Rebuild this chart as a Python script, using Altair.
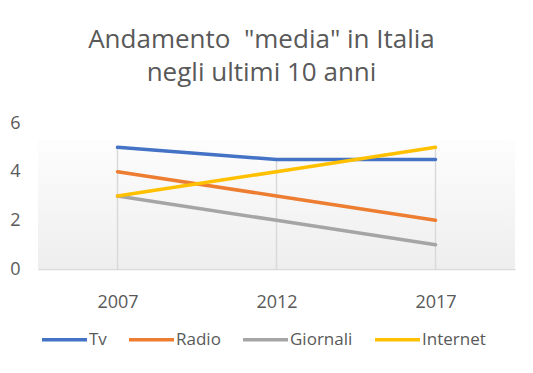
import altair as alt
import pandas as pd

years = ["2007", "2012", "2017"]
series_names = ["Tv", "Radio", "Giornali", "Internet"]
tv = [5, 4.5, 4.5]
radio = [4, 3, 2]
giornali = [3, 2, 1]
internet = [3, 4, 5]
colors = ["#4472C4", "#ED7D31", "#A5A5A5", "#FFC000"]
y_ticks = [0, 2, 4, 6]

rows = []
for name, vals in zip(series_names, [tv, radio, giornali, internet]):
    for yr, v in zip(years, vals):
        rows.append({"year": yr, "series": name, "value": v})
df = pd.DataFrame(rows)

W, H = 477, 146
GRAY = "#595959"
FONT = "Open Sans"

xscale = alt.Scale(type="point", padding=0.5, domain=years)
yscale = alt.Scale(domain=[0, 6], nice=False, zero=True)

xaxis = alt.Axis(title=None, labelAngle=0, ticks=False, grid=False,
                 domainColor="#d9d9d9", domainWidth=1.5,
                 labelColor=GRAY, labelFont=FONT, labelFontSize=18,
                 labelPadding=24)
yaxis = alt.Axis(title=None, values=y_ticks, ticks=False, domain=False,
                 grid=False, labelColor=GRAY, labelFont=FONT,
                 labelFontSize=18, labelPadding=18)

base = alt.Chart(df)

bg = alt.Chart(pd.DataFrame({"top": [5.3], "bottom": [0]})).mark_rect(
    strokeWidth=0, stroke="transparent",
    fill=alt.LinearGradient(
        gradient="linear",
        stops=[alt.GradientStop(color="#fdfdfd", offset=0),
               alt.GradientStop(color="#eeeeee", offset=1)],
        x1=0, x2=0, y1=0, y2=1,
    )
).encode(
    x=alt.value(0), x2=alt.value(W),
    y=alt.Y("top:Q", scale=yscale, axis=yaxis), y2="bottom:Q",
)

drops = base.transform_aggregate(
    maxv="max(value)", groupby=["year"]
).mark_rule(color="#d9d9d9", strokeWidth=1.5).encode(
    x=alt.X("year:N", scale=xscale, sort=years, axis=xaxis),
    y=alt.Y("maxv:Q", scale=yscale, axis=yaxis),
    y2=alt.datum(0),
)

lines = base.mark_line(strokeWidth=3.5, strokeCap="round").encode(
    x=alt.X("year:N", scale=xscale, sort=years, axis=xaxis),
    y=alt.Y("value:Q", scale=yscale, axis=yaxis),
    color=alt.Color("series:N",
                    scale=alt.Scale(domain=series_names, range=colors),
                    legend=alt.Legend(title=None, orient="none", direction="horizontal",
                                      legendX=2, legendY=192,
                                      symbolType="stroke", symbolSize=2025,
                                      symbolStrokeWidth=3.5, labelOffset=0,
                                      columnPadding=15, labelColor=GRAY,
                                      labelFont=FONT, labelFontSize=17)),
    order=alt.Order("year:N"),
)

chart = alt.layer(bg, drops, lines).properties(
    width=W, height=H,
    title=alt.TitleParams(
        text=['Andamento\u00a0 "media" in Italia', "negli ultimi 10 anni"],
        font=FONT, fontSize=26, fontWeight="normal", color=GRAY,
        lineHeight=33, anchor="middle", offset=28, dx=-15,
    ),
    autosize=alt.AutoSizeParams(type="none"),
    padding={"left": 30, "top": 115, "right": 10, "bottom": 96},
).configure(
    background="white",
    view=alt.ViewConfig(strokeWidth=0, stroke="transparent"),
)

chart.save("out.html", embed_options={"renderer": "svg", "actions": False})
